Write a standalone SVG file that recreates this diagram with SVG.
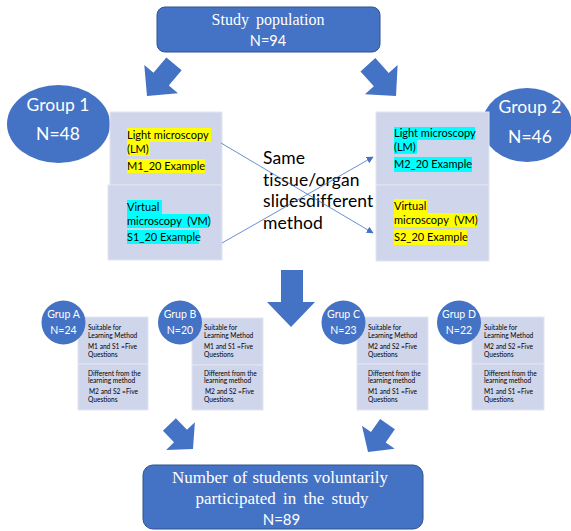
<svg xmlns="http://www.w3.org/2000/svg" width="571" height="531" viewBox="0 0 571 531">
<style>
.blue{fill:#4472c4}
.box{fill:#4472c4;stroke:#2f528f;stroke-width:1}
.panel{fill:#cfd5ea;stroke:#e3e6f1;stroke-width:1}
.serif{font-family:"Liberation Serif","Times New Roman",serif;fill:#fff}
.sans{font-family:Lato,"Liberation Sans",sans-serif}
.w{fill:#fff}
.k{fill:#000}
.hy{fill:#ffff00}
.hc{fill:#00ffff}
.lbl{font-size:11px}
.small{font-size:6.6px;fill:#000}
.note{font-size:17.5px;letter-spacing:0.1px}
.line{stroke:#4472c4;stroke-width:0.8;fill:none}
</style>
<defs>
<path id="barrow" d="M-9,-34 L9,-34 L9,-18 L20,-18 L0,0 L-20,-18 L-9,-18 Z"/>
<path id="barrowL" d="M-10,-42 L10,-42 L10,-22 L22,-22 L0,0 L-22,-22 L-10,-22 Z"/>
<marker id="ah" viewBox="0 0 10 10" refX="9" refY="5" markerWidth="7" markerHeight="7" orient="auto" markerUnits="userSpaceOnUse">
<path d="M0,0 L10,5 L0,10 Z" fill="#4472c4"/>
</marker>
</defs>

<g id="study-population">
<rect class="box" x="157" y="7" width="223" height="45" rx="8"/>
<text class="serif" x="268" y="25" font-size="16" text-anchor="middle" word-spacing="3">Study population</text>
<text class="sans w" x="268" y="46" font-size="14.5" text-anchor="middle">N=94</text>
</g>

<g id="group1">
<ellipse class="blue" cx="58.5" cy="124" rx="51.5" ry="39"/>
<text class="sans w" x="58" y="111" font-size="17.5" text-anchor="middle">Group 1</text>
<text class="sans w" x="58" y="140" font-size="17.5" text-anchor="middle">N=48</text>
</g>

<g id="group2">
<ellipse class="blue" cx="527" cy="125" rx="45" ry="37"/>
<text class="sans w" x="530" y="113" font-size="17.5" text-anchor="middle">Group 2</text>
<text class="sans w" x="530" y="143" font-size="17.5" text-anchor="middle">N=46</text>
</g>

<g id="panel-left-lm">
<rect class="panel" x="110" y="112" width="112" height="73"/>
<rect class="hy" x="127" y="128" width="84" height="14"/>
<rect class="hy" x="127" y="142" width="23" height="14"/>
<rect class="hy" x="127" y="159" width="78" height="14"/>
<text class="sans k lbl" x="127" y="139">Light microscopy</text>
<text class="sans k lbl" x="127" y="153">(LM)</text>
<text class="sans k lbl" x="127" y="170">M1_20 Example</text>
</g>

<g id="panel-left-vm">
<rect class="panel" x="108" y="185" width="114" height="75"/>
<rect class="hc" x="127" y="200" width="35" height="14"/>
<rect class="hc" x="127" y="214" width="82" height="14"/>
<rect class="hc" x="127" y="230" width="72" height="14"/>
<text class="sans k lbl" x="127" y="211">Virtual</text>
<text class="sans k lbl" x="127" y="225" xml:space="preserve">microscopy  (VM)</text>
<text class="sans k lbl" x="127" y="241">S1_20 Example</text>
</g>

<g id="panel-right-lm">
<rect class="panel" x="376" y="112" width="113" height="73"/>
<rect class="hc" x="394" y="127" width="81" height="13"/>
<rect class="hc" x="394" y="140" width="23" height="14"/>
<rect class="hc" x="394" y="157" width="78" height="15"/>
<text class="sans k lbl" x="394" y="137">Light microscopy</text>
<text class="sans k lbl" x="394" y="151">(LM)</text>
<text class="sans k lbl" x="394" y="168">M2_20 Example</text>
</g>

<g id="panel-right-vm">
<rect class="panel" x="376" y="185" width="113" height="76"/>
<rect class="hy" x="394" y="199" width="33" height="14"/>
<rect class="hy" x="394" y="213" width="83" height="14"/>
<rect class="hy" x="394" y="230" width="73" height="15"/>
<text class="sans k lbl" x="394" y="210">Virtual</text>
<text class="sans k lbl" x="394" y="224" xml:space="preserve">microscopy  (VM)</text>
<text class="sans k lbl" x="394" y="241">S2_20 Example</text>
</g>

<g id="center-note">
<text class="sans k note" x="263" y="164">Same</text>
<text class="sans k note" x="263" y="185.5">tissue/organ</text>
<text class="sans k note" x="263" y="207">slidesdifferent</text>
<text class="sans k note" x="263" y="228.5">method</text>
</g>

<g id="grupA">
<rect class="panel" x="78" y="317" width="70" height="47"/>
<rect class="panel" x="78" y="364" width="70" height="46"/>
<circle class="blue" cx="63.5" cy="322.5" r="22"/>
<text class="sans w" x="63.5" y="318" font-size="10.5" text-anchor="middle">Grup A</text>
<text class="sans w" x="63.5" y="334" font-size="10.5" text-anchor="middle">N=24</text>
<text class="sans small" x="88" y="330">Suitable for</text>
<text class="sans small" x="88" y="338">Learning Method</text>
<text class="sans small" x="88" y="349">M1 and S1 =Five</text>
<text class="sans small" x="88" y="357">Questions</text>
<text class="sans small" x="88" y="375.5">Different from the</text>
<text class="sans small" x="88" y="383">learning method</text>
<text class="sans small" x="89" y="394">M2 and S2 =Five</text>
<text class="sans small" x="88" y="401.5">Questions</text>
</g>

<g id="grupB">
<rect class="panel" x="192" y="318" width="71" height="47"/>
<rect class="panel" x="192" y="365" width="71" height="45"/>
<circle class="blue" cx="180" cy="322.5" r="22"/>
<text class="sans w" x="180" y="318" font-size="10.5" text-anchor="middle">Grup B</text>
<text class="sans w" x="180" y="334" font-size="10.5" text-anchor="middle">N=20</text>
<text class="sans small" x="204" y="330">Suitable for</text>
<text class="sans small" x="204" y="338">Learning Method</text>
<text class="sans small" x="204" y="349">M1 and S1 =Five</text>
<text class="sans small" x="204" y="357">Questions</text>
<text class="sans small" x="204" y="375.5">Different from the</text>
<text class="sans small" x="204" y="383">learning method</text>
<text class="sans small" x="205" y="394">M2 and S2 =Five</text>
<text class="sans small" x="204" y="401.5">Questions</text>
</g>

<g id="grupC">
<rect class="panel" x="357" y="317" width="71" height="47"/>
<rect class="panel" x="357" y="364" width="71" height="46"/>
<circle class="blue" cx="343.5" cy="322.5" r="22"/>
<text class="sans w" x="343.5" y="318" font-size="10.5" text-anchor="middle">Grup C</text>
<text class="sans w" x="343.5" y="334" font-size="10.5" text-anchor="middle">N=23</text>
<text class="sans small" x="368" y="330">Suitable for</text>
<text class="sans small" x="368" y="338">Learning Method</text>
<text class="sans small" x="368" y="349">M2 and S2 =Five</text>
<text class="sans small" x="368" y="357">Questions</text>
<text class="sans small" x="368" y="375.5">Different from the</text>
<text class="sans small" x="368" y="383">learning method</text>
<text class="sans small" x="368" y="394">M1 and S1 =Five</text>
<text class="sans small" x="368" y="401.5">Questions</text>
</g>

<g id="grupD">
<rect class="panel" x="472" y="317" width="72" height="47"/>
<rect class="panel" x="472" y="364" width="72" height="46"/>
<circle class="blue" cx="459" cy="322.5" r="22"/>
<text class="sans w" x="459" y="318" font-size="10.5" text-anchor="middle">Grup D</text>
<text class="sans w" x="459" y="334" font-size="10.5" text-anchor="middle">N=22</text>
<text class="sans small" x="484" y="330">Suitable for</text>
<text class="sans small" x="484" y="338">Learning Method</text>
<text class="sans small" x="484" y="349">M2 and S2 =Five</text>
<text class="sans small" x="484" y="357">Questions</text>
<text class="sans small" x="484" y="375.5">Different from the</text>
<text class="sans small" x="484" y="383">learning method</text>
<text class="sans small" x="484" y="394">M1 and S1 =Five</text>
<text class="sans small" x="484" y="401.5">Questions</text>
</g>

<g id="final-count">
<rect class="box" x="143" y="465" width="280" height="64" rx="10"/>
<text class="serif" x="280" y="483" font-size="17" text-anchor="middle" word-spacing="1">Number of students voluntarily</text>
<text class="serif" x="282" y="504" font-size="17" text-anchor="middle" word-spacing="3">participated in the study</text>
<text class="sans w" x="281.5" y="525" font-size="15" text-anchor="middle">N=89</text>
</g>

<g id="connectors">
<use href="#barrowL" class="blue" transform="translate(147,96) rotate(40)"/>
<use href="#barrowL" class="blue" transform="translate(396,96) rotate(-42)"/>
<path class="blue" d="M281,270 H303 V302 H315 L291,327 L267,302 H281 Z"/>
<use href="#barrow" class="blue" transform="translate(193,449) rotate(-44)"/>
<use href="#barrow" class="blue" transform="translate(368,452) rotate(35)"/>
<line class="line" x1="221" y1="143" x2="373" y2="233" marker-end="url(#ah)"/>
<line class="line" x1="222" y1="243" x2="373" y2="157" marker-end="url(#ah)"/>
</g>
</svg>
